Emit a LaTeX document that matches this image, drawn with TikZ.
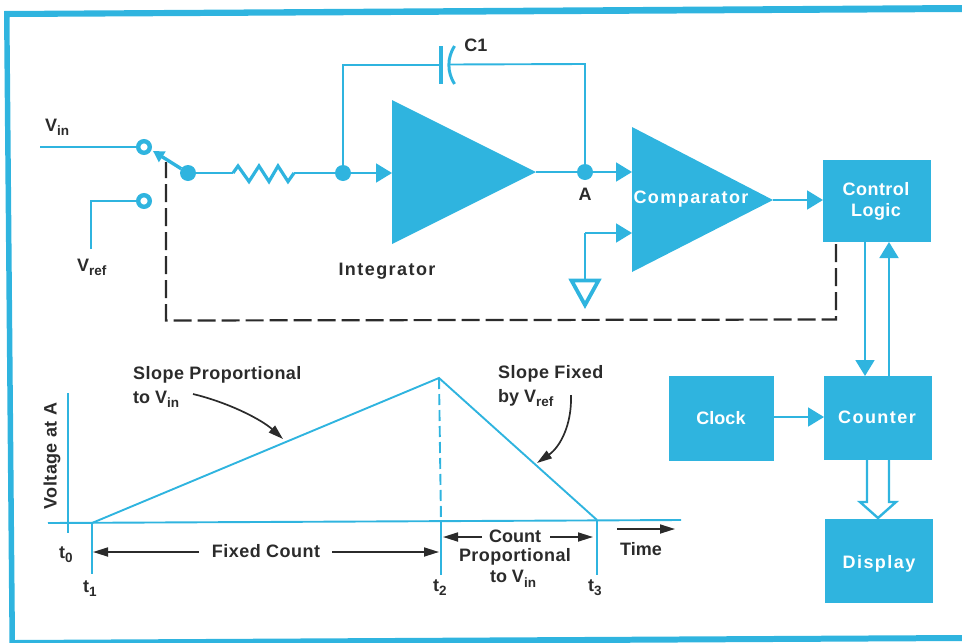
\documentclass[tikz,border=0pt]{standalone}
\usepackage{fontspec}
\setmainfont{Liberation Sans}[BoldFont={Liberation Sans Bold}]
\newfontfamily\widefont{Liberation Sans Bold}[LetterSpace=8]
\newfontfamily\midfont{Liberation Sans Bold}[LetterSpace=2.5]
\newfontfamily\flatfont{Liberation Sans Bold}
\usetikzlibrary{arrows.meta}
\definecolor{hpblue}{HTML}{2FB4DF}
\definecolor{ink}{HTML}{2B2B2B}
\newcommand{\vsub}[2]{#1\raisebox{-4.5pt}{\fontsize{13.5}{14}\selectfont #2}}
\tikzset{
  x=1pt,y=-1pt,
  wire/.style={draw=hpblue,line width=1.9pt},
  blueblock/.style={fill=hpblue,inner sep=0pt,outer sep=0pt,minimum width=0pt},
  darktext/.style={text=ink,inner sep=0pt,font=\flatfont\fontsize{18}{21}\selectfont,align=left},
  darkmid/.style={darktext,font=\midfont\fontsize{18}{21}\selectfont},
  darkwide/.style={darktext,font=\widefont\fontsize{18}{21}\selectfont},
  whitetext/.style={text=white,inner sep=0pt,font=\widefont\fontsize{18}{21.5}\selectfont,align=center},
  whitemid/.style={whitetext,font=\midfont\fontsize{18}{21.5}\selectfont},
  whiteflat/.style={whitetext,font=\flatfont\fontsize{18}{21.5}\selectfont},
  headblue/.style={-{Triangle[length=16pt,width=19pt,fill=hpblue]},wire},
  headblack/.style={-{Triangle[length=15pt,width=9pt,fill=ink]},draw=ink,line width=1.7pt},
  dot/.style={circle,fill=hpblue,minimum size=16pt,inner sep=0pt,outer sep=0pt},
  opendot/.style={circle,draw=hpblue,fill=white,line width=4.4pt,minimum size=11.6pt,inner sep=0pt,outer sep=2pt},
  bigdash/.style={draw=ink,line width=2.2pt,dash pattern=on 18pt off 6pt},
}
\begin{document}
\begin{tikzpicture}
\useasboundingbox (0,0) rectangle (962,643);
% border
\fill[hpblue] (4,11) -- (962,5) -- (962,12) -- (9.5,17) -- (15,640) -- (962,635) -- (962,641) -- (9.5,646) -- cycle;

% blocks
\node[blueblock,minimum width=108pt,minimum height=82pt] (control) at (877,201) {};
\node[blueblock,minimum width=108pt,minimum height=84pt] (counter) at (878,418) {};
\node[blueblock,minimum width=105pt,minimum height=85pt] (clock) at (721.5,418.5) {};
\node[blueblock,minimum width=108pt,minimum height=84pt] (display) at (879,561) {};
\node[whitemid] at (876,201.5) {Control\\Logic};
\node[whitetext] at (877,417) {Counter};
\node[whiteflat] at (721,418) {Clock};
\node[whitetext] at (879,563.5) {Display};

% amplifiers
\fill[hpblue] (392,100) coordinate (intT) -- (536,172) coordinate (intOut) -- (392,244) coordinate (intB) -- cycle;
\fill[hpblue] (632,127) coordinate (cmpT) -- (773,200) coordinate (cmpOut) -- (632,272) coordinate (cmpB) -- cycle;
\coordinate (intIn) at (392,173);
\coordinate (cmpA) at (632,172);
\coordinate (cmpG) at (632,233);
\node[whitetext] at (691,199) {Comparator};
\node[darkwide] at (387,271) {Integrator};

% front end
\coordinate (vinEnd) at (40,147);
\coordinate (vrefEnd) at (91,249);
\coordinate (vrefBend) at (91,201);
\node[opendot] (vin) at (144,147) {};
\node[opendot] (vref) at (144,201) {};
\node[dot] (sw) at (188,173) {};
\node[dot] (sum) at (343,173) {};
\node[dot] (nodeA) at (585,172) {};
\draw[wire] (vinEnd) -- (vin);
\draw[wire] (vrefEnd) -- (vrefBend) -- (vref);
\draw[draw=hpblue,line width=3.4pt,-{Triangle[length=11pt,width=12pt,fill=hpblue]}] (sw) -- (153,151);
\draw[wire] (sw) -- (233,173);
\draw[wire] (294,173) -- (sum);
\draw[line width=3.2pt,draw=hpblue,line join=miter] (233,173) -- (238,166) -- (249,181.5) -- (259,166) -- (269,181.5) -- (278,166) -- (288,181.5) -- (294,173);
\draw[headblue] (sum) -- (intIn);
\draw[wire] (intOut) -- (nodeA);
\draw[headblue] (nodeA) -- (cmpA);

% feedback capacitor
\coordinate (plateL) at (441,65);
\coordinate (plateR) at (449.5,64.5);
\draw[wire] (sum) -- (343,65) -- (plateL);
\draw[wire] (plateR) -- (585,64) -- (nodeA);
\draw[draw=hpblue,line width=3.4pt] (441,46) -- (441,84);
\draw[draw=hpblue,line width=3pt] (454.5,46) .. controls (447,58) and (447,72) .. (454.5,84);
\node[darktext] at (476,45) {C1};
\node[darktext] at (585,194) {A};

% ground
\coordinate (gndTop) at (585,280);
\coordinate (gndBend) at (585,233);
\draw[wire] (gndTop) -- (gndBend);
\draw[headblue] (gndBend) -- (cmpG);
\draw[draw=hpblue,line width=3.8pt,line join=miter] (571.5,280.5) -- (598.5,280.5) -- (585,305) -- cycle;

% links
\draw[headblue] (cmpOut) -- (cmpOut -| control.west);
\draw[headblue] (control.south -| 865,0) -- (counter.north -| 865,0);
\draw[headblue] (counter.north -| 889,0) -- (control.south -| 889,0);
\draw[headblue] (clock.east |- 0,417) -- (counter.west |- 0,417);
\draw[draw=hpblue,line width=2.4pt,line join=miter,fill=white]
  (counter.south -| 867,0) -- (867,502) -- (860,502) -- (878,518) -- (896,502) -- (889,502) -- (counter.south -| 889,0);

% dashed control
\draw[bigdash] (836,244) -- (836,319.5) -- (166,320.5) -- (166,162);

% labels of the inputs
\node[darktext,anchor=base west] at (45,131) {\vsub{V}{in}};
\node[darktext,anchor=base west] at (77,271) {\vsub{V}{ref}};

% timing graph
\coordinate (t0) at (68,523);
\coordinate (t1) at (92,523);
\coordinate (t2) at (441,521);
\coordinate (t3) at (597,520);
\coordinate (peak) at (439,378);
\draw[wire] (68,393) -- (68,533);
\draw[wire] (48,523) -- (681,520);
\draw[wire] (t1) -- (92,574);
\draw[wire] (t1) -- (peak) -- (t3);
\draw[wire,dash pattern=on 11pt off 5pt] (peak) -- (t2);
\draw[wire] (t2) -- (441,575);
\draw[wire] (t3) -- (597,575);

\node[darkmid,rotate=90] at (52,456) {Voltage at A};
\node[darktext,anchor=base west] at (59,558) {\vsub{t}{0}};
\node[darktext,anchor=base west] at (83,592) {\vsub{t}{1}};
\node[darktext,anchor=base west] at (433,591) {\vsub{t}{2}};
\node[darktext,anchor=base west] at (588,591) {\vsub{t}{3}};

\node[darkmid] (fixed) at (266,551) {Fixed Count};
\draw[headblack] (199,552) -- (93,552);
\draw[headblack] (332,552) -- (439,552);
\node[darktext] (count) at (515,536) {Count};
\draw[headblack] (482,537) -- (443,537);
\draw[headblack] (550,537) -- (593,537);
\node[darkmid] at (515,557) {Proportional};
\node[darktext] at (513,579) {\vsub{to V}{in}};
\node[darktext] at (641,549) {Time};
\draw[headblack] (617,529) -- (675,529);

\node[darkmid,anchor=west] at (133,375) {Slope Proportional};
\node[darktext,anchor=base west] at (133,403) {\vsub{to V}{in}};
\node[darkmid,anchor=west] at (498,374) {Slope Fixed};
\node[darktext,anchor=base west] at (498,402) {\vsub{by V}{ref}};
\draw[headblack] (193,394) .. controls (230,403) and (262,420) .. (283,439);
\draw[headblack] (571,395) .. controls (572,425) and (560,447) .. (537,463);
\end{tikzpicture}
\end{document}
